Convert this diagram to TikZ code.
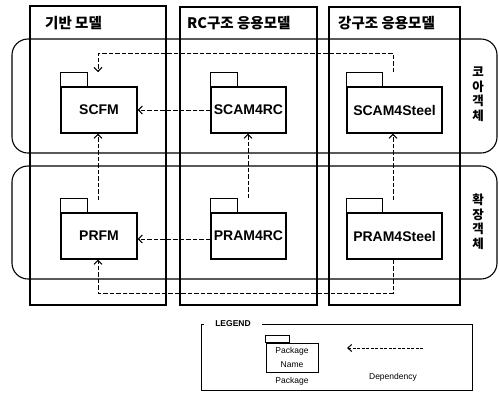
\documentclass[tikz,border=0pt]{standalone}
\usepackage{fontspec}
\setmainfont{Liberation Sans}
\newfontfamily\kr{Noto Sans CJK KR}
\usetikzlibrary{arrows.meta}
\begin{document}
\begin{tikzpicture}[x=1pt,y=-1pt,
  lane/.style={draw,line width=1.3pt},
  band/.style={draw,line width=1.1pt,rounded corners=16pt},
  pkg/.style={draw,line width=1.2pt,fill=white,minimum height=46pt,inner sep=0pt,
    font=\fontsize{14}{15}\selectfont\bfseries},
  pkgtab/.style={draw,line width=1.2pt,fill=white},
  dep/.style={line width=1pt,dash pattern=on 4.5pt off 2pt,
    -{Straight Barb[length=4pt,width=8pt,line width=1pt]}},
  hdr/.style={anchor=west,inner sep=0pt,font=\kr\bfseries\fontsize{14.5}{16}\selectfont},
  rowchar/.style={inner sep=0pt,font=\kr\bfseries\fontsize{12.5}{14}\selectfont},
  legtxt/.style={inner sep=0pt,font=\fontsize{8.5}{14}\selectfont}
]
\useasboundingbox (0,0) rectangle (499,392);

% swimlanes (columns)
\draw[lane] (30,6) rectangle (166,305);
\draw[lane] (180,7) rectangle (317,305);
\draw[lane] (329,7) rectangle (460,305);

% row bands
\draw[band] (12,39) rectangle (497,153);
\draw[band] (12,166) rectangle (497,279);

% column headers
\node[hdr] (h1) at (45,23) {기반 모델};
\node[hdr] (h2) at (187,23) {RC구조 응용모델};
\node[hdr] (h3) at (338,23) {강구조 응용모델};

% row labels, set vertically one character at a time
\foreach \ch [count=\i] in {코,아,객,체}
  \node[rowchar] (ra\i) at (478,{57.5+14.5*\i}) {\ch};
\foreach \ch [count=\i] in {확,장,객,체}
  \node[rowchar] (rb\i) at (478,{185.5+14.5*\i}) {\ch};

% packages
\node[pkg,minimum width=76pt] (SCFM) at (99,110) {SCFM};
\node[pkg,minimum width=75pt] (SCAM4RC) at (248.5,110) {SCAM4RC};
\node[pkg,minimum width=95pt] (SCAM4Steel) at (394.5,110) {SCAM4Steel};
\node[pkg,minimum width=76pt] (PRFM) at (99,236) {PRFM};
\node[pkg,minimum width=75pt] (PRAM4RC) at (248.5,236) {PRAM4RC};
\node[pkg,minimum width=95pt] (PRAM4Steel) at (394.5,236) {PRAM4Steel};

\draw[pkgtab] (SCFM.north west) rectangle ++(27,-14);
\draw[pkgtab] (SCAM4RC.north west) rectangle ++(27,-14);
\draw[pkgtab] (SCAM4Steel.north west) rectangle ++(36,-14);
\draw[pkgtab] (PRFM.north west) rectangle ++(27,-14);
\draw[pkgtab] (PRAM4RC.north west) rectangle ++(27,-14);
\draw[pkgtab] (PRAM4Steel.north west) rectangle ++(36,-14);

% free ends of the dependency lines
\coordinate (sSteelTop) at (393,72);
\coordinate (sFmTop) at (98,72);
\coordinate (pFmTop) at (98,200);
\coordinate (pRcTop) at (248,198);
\coordinate (pSteelTop) at (393,200);

% dependencies
\draw[dep] (SCAM4RC.west) -- (SCFM.east);
\draw[dep] ([yshift=-3pt]PRAM4RC.west) -- ([yshift=-3pt]PRFM.east);
\draw[dep] (sSteelTop) -- (393,53) -- (98,53) -- (sFmTop);
\draw[dep] (pFmTop) -- (SCFM.south -| pFmTop);
\draw[dep] (pRcTop) -- (SCAM4RC.south -| pRcTop);
\draw[dep] (pSteelTop) -- (SCAM4Steel.south -| pSteelTop);
\draw[dep] (PRAM4Steel.south -| pSteelTop) -- (393,293) -- (98,293) -- (PRFM.south -| pFmTop);

% legend
\node[inner sep=0pt,font=\bfseries\fontsize{8.5}{10}\selectfont] (legtitle) at (233,324) {LEGEND};
\draw[line width=1pt] (204,324) -- (201,324) -- (201,390) -- (472,390) -- (472,324) -- (262,324);
\node[draw,line width=0.9pt,fill=white,minimum width=52pt,minimum height=29pt,inner sep=0pt,
  align=center,font=\fontsize{8.5}{14}\selectfont] (legpkg) at (292,357.5) {Package\\Name};
\draw[line width=0.9pt] (legpkg.north west) rectangle ++(24,-7);
\node[legtxt] (legpkglbl) at (292,381) {Package};
\coordinate (legdepR) at (423,348);
\coordinate (legdepL) at (347,348);
\draw[line width=1pt,dash pattern=on 3pt off 1.5pt,-{Straight Barb[length=4pt,width=7pt,line width=1pt]}] (legdepR) -- (legdepL);
\node[legtxt] (legdeplbl) at (393,377) {Dependency};
\end{tikzpicture}
\end{document}
